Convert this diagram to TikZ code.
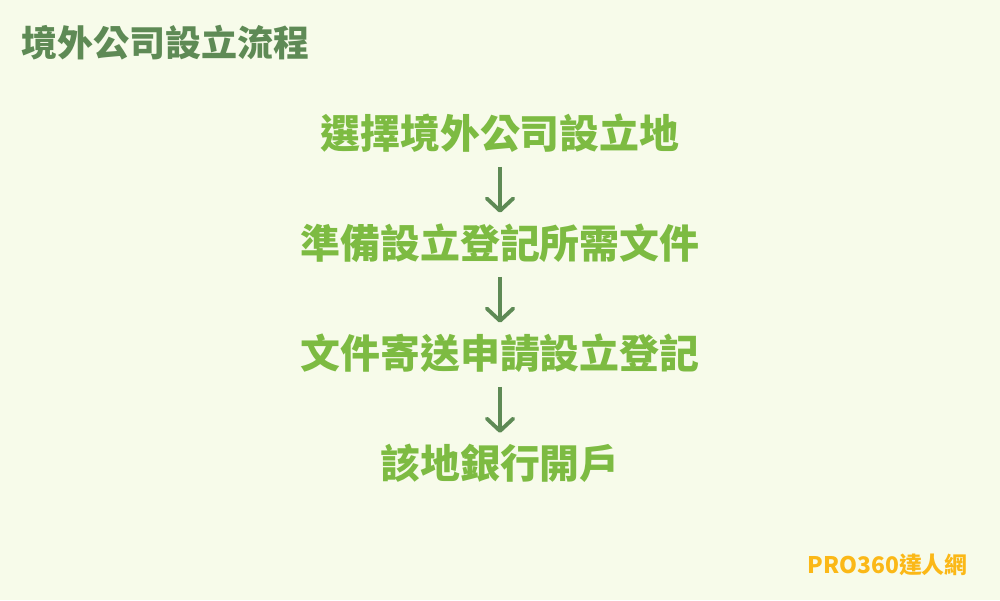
\documentclass[tikz,border=0pt]{standalone}
\usepackage{fontspec}
\newfontfamily\cjk{Noto Sans CJK TC}
\usetikzlibrary{arrows.meta}
\definecolor{bgcol}{HTML}{F7FBEA}
\definecolor{titlecol}{HTML}{5E8A55}
\definecolor{stepcol}{HTML}{7DBB42}
\definecolor{arrowcol}{HTML}{5E8A55}
\definecolor{markcol}{HTML}{FBB817}
\begin{document}
\begin{tikzpicture}[x=0.02cm, y=-0.02cm,
  steptext/.style={inner sep=0pt, text=stepcol, font=\cjk\bfseries\fontsize{22.7}{26}\selectfont},
  flowarrow/.style={arrowcol, line width=2.2pt, -{Straight Barb[length=7pt, width=15pt, line cap=round, line join=round]}, shorten <=8pt, shorten >=6pt}]

\fill[bgcol] (0,0) rectangle (1000,600);

\node[anchor=west, inner sep=0pt, text=titlecol] (title) at (21,43) [font=\cjk\bfseries\fontsize{20.5}{24}\selectfont] {境外公司設立流程};

\node[steptext] (s1) at (500,133) {選擇境外公司設立地};
\node[steptext] (s2) at (500,243) {準備設立登記所需文件};
\node[steptext] (s3) at (500,353) {文件寄送申請設立登記};
\node[steptext] (s4) at (500,463) {該地銀行開戶};

\draw[flowarrow] (s1.south) -- (s2.north);
\draw[flowarrow] (s2.south) -- (s3.north);
\draw[flowarrow] (s3.south) -- (s4.north);

\node[anchor=east, inner sep=0pt, text=markcol] (mark) at (968,565) [font=\cjk\bfseries\fontsize{13}{16}\selectfont] {PRO360達人網};

\end{tikzpicture}
\end{document}
